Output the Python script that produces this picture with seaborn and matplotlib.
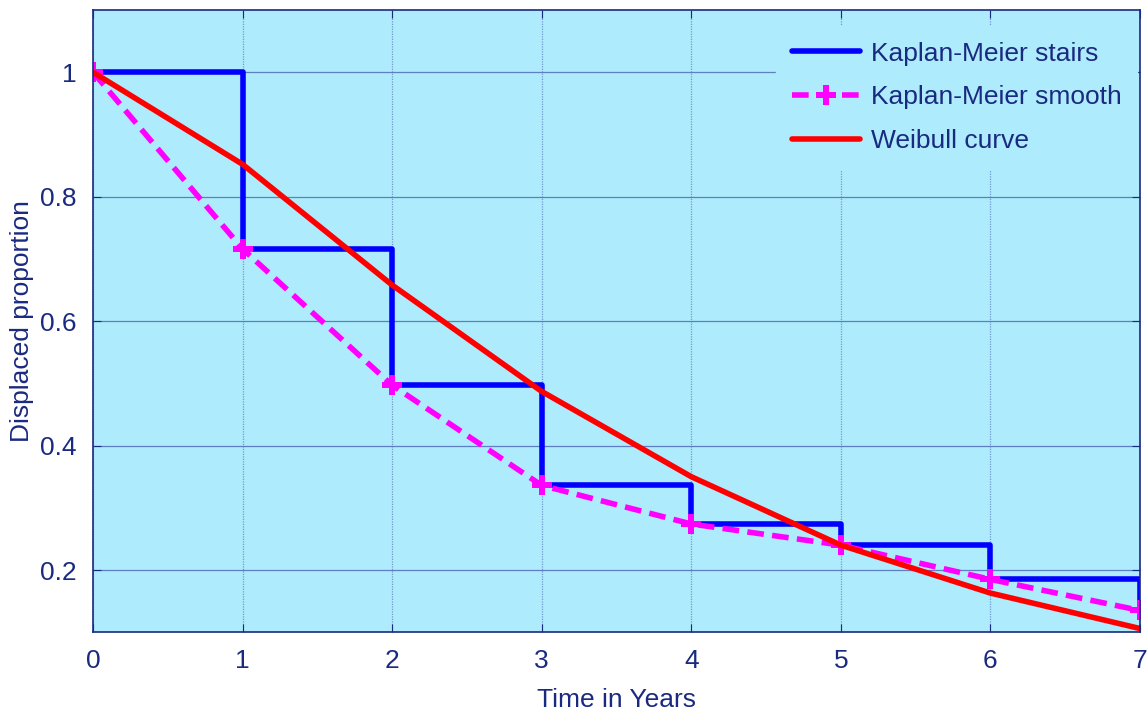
import numpy as np
import pandas as pd
import matplotlib
matplotlib.use("Agg")
import matplotlib.pyplot as plt
import seaborn as sns

# Data
years = [0, 1, 2, 3, 4, 5, 6, 7]
km_values = [1.0, 0.716, 0.497, 0.336, 0.274, 0.240, 0.185, 0.135]
weibull_values = [1.0, 0.852, 0.658, 0.487, 0.350, 0.240, 0.163, 0.106]

df = pd.DataFrame({"t": years, "km": km_values, "wb": weibull_values})

navy = "#1a2a80"
bg = "#aeebfc"

sns.set_style("ticks")
plt.rcParams['font.family'] = ['Liberation Sans', 'DejaVu Sans']

fig = plt.figure(figsize=(11.48, 7.12), dpi=100)
ax = fig.add_axes([0.081, 0.112, 0.912, 0.874])
ax.set_facecolor(bg)

sns.lineplot(data=df, x="t", y="km", ax=ax, color="#0000ff", linewidth=4,
             drawstyle="steps-post", label="Kaplan-Meier stairs")
sns.lineplot(data=df, x="t", y="km", ax=ax, color="#ff00ff", linewidth=4,
             linestyle=(0, (3, 1.5)), marker="P", markersize=14, markeredgewidth=0,
             label="Kaplan-Meier smooth")
sns.lineplot(data=df, x="t", y="wb", ax=ax, color="#ff0000", linewidth=4,
             label="Weibull curve")

ax.set_xlim(0, 7)
ax.set_ylim(0.1, 1.1)
ax.set_xticks(range(0, 8))
ax.set_xticklabels([str(i) for i in range(0, 8)])
ax.set_yticks([0.2, 0.4, 0.6, 0.8, 1.0])
ax.set_yticklabels(["0.2", "0.4", "0.6", "0.8", "1"])

ax.grid(axis="y", color="#4a64b4", linewidth=0.9, linestyle="-", alpha=0.8)
ax.grid(axis="x", color="#4a64b4", linewidth=0.9, linestyle=(0, (1, 1)), alpha=0.6)
ax.set_axisbelow(True)

ax.tick_params(direction="in", length=6, colors=navy, labelsize=19, pad=12,
               top=True, right=True)
for s in ax.spines.values():
    s.set_color(navy)
    s.set_linewidth(1.2)

ax.set_xlabel("Time in Years", fontsize=19, color=navy, labelpad=11)
ax.set_ylabel("Displaced proportion", fontsize=19, color=navy, labelpad=4)

leg = ax.legend(loc="upper right", bbox_to_anchor=(1.0, 0.979), fontsize=19,
                frameon=True, facecolor=bg, edgecolor=bg, framealpha=1,
                fancybox=False, handlelength=2.6, handletextpad=0.4,
                borderpad=0.6, labelspacing=0.75, borderaxespad=0.1)
for t in leg.get_texts():
    t.set_color(navy)

fig.savefig("out.png", dpi=100)
